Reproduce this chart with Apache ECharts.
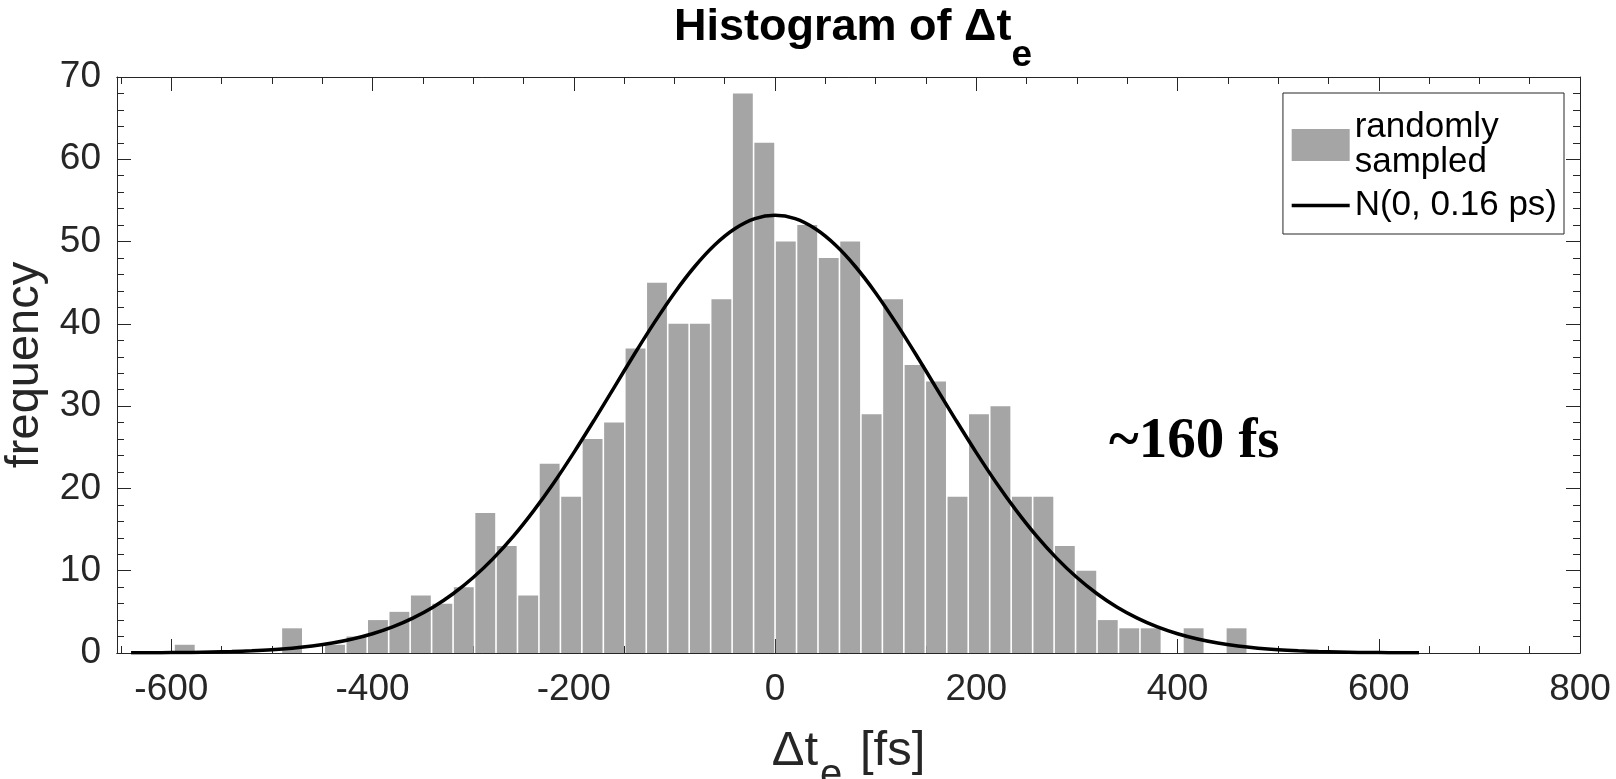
<!DOCTYPE html>
<html><head><meta charset="utf-8">
<script src="https://cdn.jsdelivr.net/npm/echarts@6/dist/echarts.min.js"></script>
<style>html,body{margin:0;padding:0;background:#fff}#c{width:1616px;height:779px}</style>
</head><body><div id="c"></div>
<script>
// Histogram definition (bin lower limit, bin width in fs) and counts per bin
const binStart = -640;
const binWidth = 1280 / 60;
const counts = [0,0,1,0,0,0,0,3,0,1,2,4,5,7,6,8,17,13,7,23,19,26,28,37,45,40,40,43,68,62,
                50,52,48,50,29,43,35,33,19,29,30,19,19,13,10,4,3,3,0,3,0,3,0,0,0,0,0,0,0,0];
// Fitted normal curve
const curveX = [-640,-620,-600,-580,-560,-540,-520,-500,-480,-460,-440,-420,-400,-380,-360,-340,-320,-300,-280,-260,-240,-220,-200,-180,-160,-140,-120,-100,-80,-60,-40,-20,
                0,20,40,60,80,100,120,140,160,180,200,220,240,260,280,300,320,340,360,380,400,420,440,460,480,500,520,540,560,580,600,620,640];
const curveY = [0.02,0.03,0.05,0.07,0.12,0.18,0.27,0.40,0.59,0.85,1.21,1.70,2.34,3.17,4.24,5.56,7.20,9.17,11.50,14.20,17.27,20.66,24.35,28.25,32.26,36.28,40.15,43.76,46.94,49.58,51.55,52.78,
                53.19,52.78,51.55,49.58,46.94,43.76,40.15,36.28,32.26,28.25,24.35,20.66,17.27,14.20,11.50,9.17,7.20,5.56,4.24,3.17,2.34,1.70,1.21,0.85,0.59,0.40,0.27,0.18,0.12,0.07,0.05,0.03,0.02];
const xMajorTicks = [-600,-400,-200,0,200,400,600,800];
const xMinorTicks = [-650,-600,-550,-500,-450,-400,-350,-300,-250,-200,-150,-100,-50,0,50,100,150,200,250,300,350,400,450,500,550,600,650,700,750,800];
const xMin = -654, xMax = 800;
const yMin = 0, yMax = 70, yStep = 10;
const seriesNames = ['randomly sampled', 'N(0, 0.16 ps)'];
const noteText = '~160 fs';

const barData = counts.map((c, i) => [binStart + i * binWidth, binStart + (i + 1) * binWidth, c]);
const lineData = curveX.map((x, i) => [x, curveY[i]]);

const AX = '#262626';
const FONT = 'Liberation Sans, Arial, Helvetica, sans-serif';

function xAxisDef(pos, major, withLabel) {
  return {
    type: 'value', position: pos, min: xMin, max: xMax,
    axisLine: { show: true, onZero: false, lineStyle: { color: AX, width: 1 } },
    axisTick: { show: true, inside: true, length: major ? 14 : 7, lineStyle: { color: AX, width: 1 },
                customValues: major ? xMajorTicks : xMinorTicks },
    axisLabel: withLabel ? { show: true, customValues: xMajorTicks, fontSize: 37, color: AX, fontFamily: FONT, margin: 18 }
                         : { show: false },
    splitLine: { show: false }
  };
}
function yAxisDef(pos, withLabel) {
  return {
    type: 'value', position: pos, min: yMin, max: yMax, interval: yStep,
    axisLine: { show: true, onZero: false, lineStyle: { color: AX, width: 1 } },
    axisTick: { show: true, inside: true, length: 14, lineStyle: { color: AX, width: 1 } },
    minorTick: { show: true, splitNumber: 5, length: 7, lineStyle: { color: AX, width: 1 } },
    axisLabel: withLabel ? { show: true, fontSize: 37, color: AX, fontFamily: FONT, margin: 16 } : { show: false },
    splitLine: { show: false }, minorSplitLine: { show: false }
  };
}

const xa0 = xAxisDef('bottom', true, true);
xa0.name = '{m|Δt}{s|e}{m| [fs]}';
xa0.nameLocation = 'middle';
xa0.nameGap = 74;
xa0.nameTextStyle = {
  color: AX, fontFamily: FONT,
  rich: {
    m: { fontSize: 49, fontFamily: FONT, color: AX, lineHeight: 52, verticalAlign: 'top' },
    s: { fontSize: 40, fontFamily: FONT, color: AX, lineHeight: 52, verticalAlign: 'top', padding: [29, 4, 0, 2] }
  }
};
const ya0 = yAxisDef('left', true);
ya0.name = 'frequency';
ya0.nameLocation = 'middle';
ya0.nameRotate = 90;
ya0.nameGap = 60;
ya0.nameTextStyle = { fontSize: 47, color: AX, fontFamily: FONT };

const chart = echarts.init(document.getElementById('c'), null, { renderer: 'canvas' });
chart.setOption({
  animation: false,
  backgroundColor: '#fff',
  title: [
    {
      text: '{m|Histogram of Δt}{s|e}',
      left: 848, top: 0, textAlign: 'center',
      textStyle: {
        rich: {
          m: { fontSize: 45, fontWeight: 'bold', fontFamily: FONT, color: '#000', lineHeight: 48, verticalAlign: 'top' },
          s: { fontSize: 37, fontWeight: 'bold', fontFamily: FONT, color: '#000', lineHeight: 48, verticalAlign: 'top', padding: [32, 0, 0, 0] }
        }
      }
    },
    {
      text: noteText, left: 1104, top: 409,
      textStyle: { fontSize: 57, fontWeight: 'bold', fontFamily: 'Liberation Serif, DejaVu Serif, serif', color: '#000' }
    }
  ],
  legend: {
    orient: 'vertical', right: 52, top: 93,
    padding: [17, 7, 11, 7], itemGap: 8, itemWidth: 58, itemHeight: 32,
    backgroundColor: '#fff', borderColor: AX, borderWidth: 1, borderRadius: 0,
    selectedMode: false,
    data: [
      { name: seriesNames[0], icon: 'rect' },
      { name: seriesNames[1], itemStyle: { color: 'rgba(0,0,0,0)', opacity: 0, borderWidth: 0 },
        lineStyle: { color: '#000', width: 3.5 } }
    ],
    formatter: n => n === seriesNames[0] ? 'randomly\nsampled' : n,
    textStyle: { fontSize: 35, lineHeight: 35, color: '#000', fontFamily: FONT }
  },
  grid: { left: 117, right: 36, top: 77, bottom: 126, containLabel: false, outerBoundsMode: 'none' },
  xAxis: [xa0, xAxisDef('bottom', false, false), xAxisDef('top', true, false), xAxisDef('top', false, false)],
  yAxis: [ya0, yAxisDef('right', false)],
  series: [
    {
      name: seriesNames[0], type: 'custom', xAxisIndex: 0, yAxisIndex: 0,
      itemStyle: { color: '#a5a5a5' },
      encode: { x: [0, 1], y: 2 },
      data: barData, clip: true, z: 2,
      renderItem: (params, api) => {
        const v = api.value(2);
        if (!v) return { type: 'group', children: [] };
        const p0 = api.coord([api.value(0), v]);
        const p1 = api.coord([api.value(1), 0]);
        return {
          type: 'rect',
          shape: { x: p0[0] + 0.8, y: p0[1], width: p1[0] - p0[0] - 1.6, height: p1[1] - p0[1] },
          style: { fill: '#a5a5a5' }
        };
      }
    },
    {
      name: seriesNames[1], type: 'line', xAxisIndex: 0, yAxisIndex: 0,
      data: lineData, symbol: 'none', showSymbol: false, smooth: 0.3, z: 3,
      lineStyle: { color: '#000', width: 3.5 }, itemStyle: { color: '#000' }
    }
  ]
});
</script></body></html>
